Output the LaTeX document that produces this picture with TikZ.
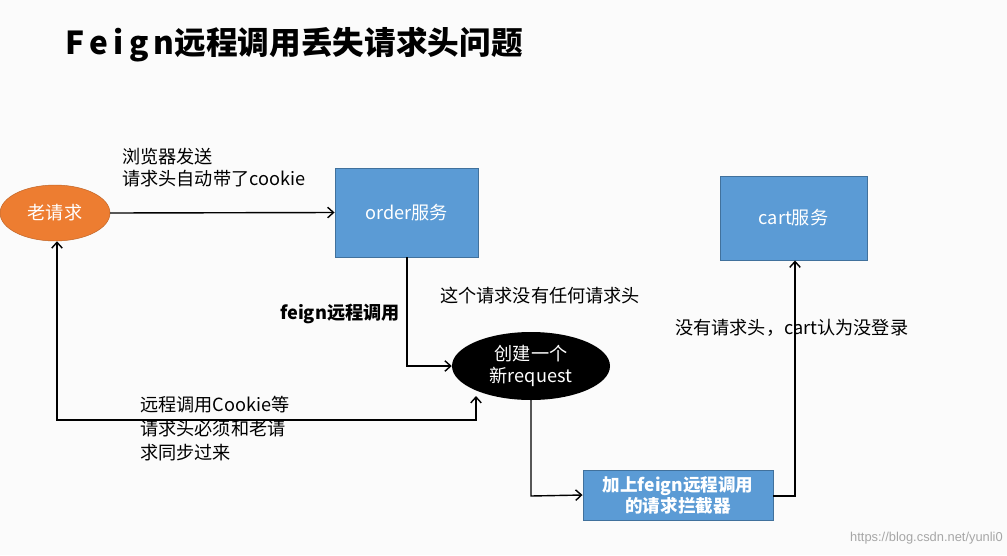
\documentclass[tikz,border=0pt]{standalone}
\usepackage{fontspec}
\setmainfont{Liberation Sans}
\newfontfamily\cjk{Noto Sans CJK SC}
\usetikzlibrary{arrows.meta,shapes.geometric}
\definecolor{bl}{HTML}{5B9BD5}
\definecolor{bd}{HTML}{41719C}
\definecolor{org}{HTML}{ED7D31}
\begin{document}
\begin{tikzpicture}[x=0.03cm,y=-0.03cm,
  font=\cjk\fontsize{15.5}{19}\selectfont,
  box/.style={draw=bd,fill=bl,line width=0.8pt,text=white,inner sep=0},
  conn/.style={line width=1.2pt,-{Straight Barb[length=5pt,width=9pt]}},
  lbl/.style={anchor=north west,align=left,inner sep=0}]
\fill[white!97!gray] (0,0) rectangle (1007,555);
\useasboundingbox (0,0) rectangle (1007,555);
\node[anchor=west,inner sep=0,font=\cjk\bfseries\fontsize{27}{30}\selectfont] (title) at (65,45) {F\,e\,i\,g\,n远程调用丢失请求头问题};
\node[ellipse,fill=org,draw=org!80!black,text=white,minimum width=110*0.03cm,minimum height=56*0.03cm,inner sep=0] (old) at (55,213) {老请求};
\node[box,minimum width=143*0.03cm,minimum height=89*0.03cm] (order) at (406.5,212.5) {order服务};
\node[box,minimum width=147*0.03cm,minimum height=84*0.03cm] (cart) at (793.5,218) {cart服务};
\node[ellipse,fill=black,text=white,minimum width=158*0.03cm,minimum height=68*0.03cm,inner sep=0,align=center] (new) at (531,366) {创建一个\\新request};
\node[box,minimum width=190*0.03cm,minimum height=50*0.03cm,align=center,font=\cjk\bfseries\fontsize{15}{18}\selectfont] (inter) at (678,495) {加上feign远程调用\\的请求拦截器};
\coordinate (c1) at (407,366);
\coordinate (c2) at (531,496);
\coordinate (c3) at (795,496);
\coordinate (c4) at (476,420);
\coordinate (c5) at (57,420);
\draw[conn] (old.east) -- (order.west);
\draw[conn] (order.south -| c1) -- (c1) -- (new.west);
\draw[conn] (new.south) -- (c2) -- (inter.west);
\draw[conn] (inter.east |- c3) -- (c3) -- (cart.south -| c3);
\draw[conn,{Straight Barb[length=5pt,width=9pt]}-{Straight Barb[length=5pt,width=9pt]}] (old.south -| c5) -- (c5) -- (c4) -- (c4 |- 0,396);
\node[lbl] (l1) at (122,148) {浏览器发送\\请求头自动带了cookie};
\node[lbl,font=\cjk\bfseries\fontsize{15.5}{19}\selectfont] (l2) at (280,304) {feign远程调用};
\node[lbl] (l3) at (440,287) {这个请求没有任何请求头};
\node[lbl] (l4) at (675,319) {没有请求头，cart认为没登录};
\node[lbl,align=left,font=\cjk\fontsize{15.5}{20.5}\selectfont] (l5) at (140,396) {远程调用Cookie等\\请求头必须和老请\\求同步过来};
\node[anchor=south east,inner sep=0,text=gray!70,font=\fontsize{11}{13}\selectfont] (wm) at (1003,544) {https://blog.csdn.net/yunli0};
\end{tikzpicture}
\end{document}
